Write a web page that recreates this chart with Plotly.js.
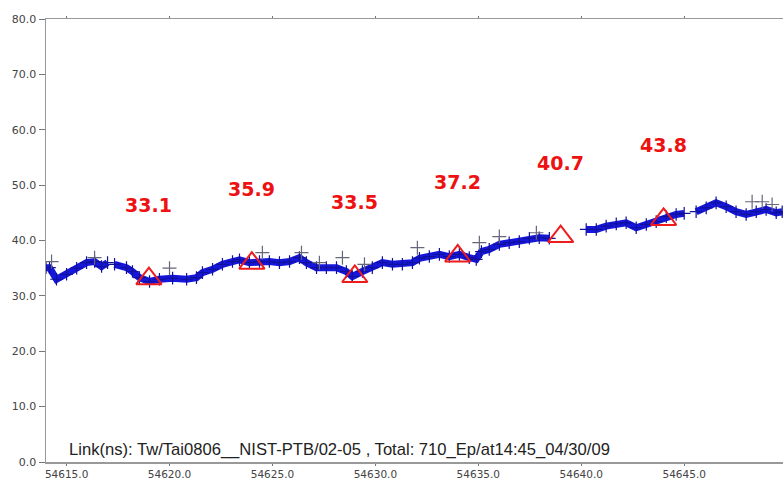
<!DOCTYPE html>
<html>
<head>
<meta charset="utf-8">
<script src="https://cdn.plot.ly/plotly-3.0.1.min.js"></script>
<style>html,body{margin:0;padding:0;background:#fff;}#chart{width:784px;height:480px;}</style>
</head>
<body>
<div id="chart"></div>
<script>
// MJD epochs and link values (ns); null marks a data gap
const linkMJD = [54614.0,54614.17,54614.51,54615.0,54615.49,54615.97,54616.36,54616.70,54616.99,54617.15,
  54617.33,54617.91,54618.20,54618.54,54619.03,54619.51,54620.15,54620.83,54621.31,54621.60,
  54622.09,54622.57,54623.06,54623.40,54623.88,54624.37,54624.85,54625.34,54625.83,54626.31,
  54626.65,54627.14,54627.62,54628.11,54628.59,54628.88,54629.37,54629.85,54630.34,54630.83,
  54631.31,54631.80,54632.14,54632.62,54633.11,54633.59,54634.08,54634.56,54634.90,54635.15,
  54635.53,54636.02,54636.50,54636.99,54637.48,54637.96,54638.45,54639.3,
  54640.24,54640.73,54641.21,54641.70,54642.18,54642.67,54643.16,54643.64,54644.13,54644.61,54645.0,54645.3,
  54645.58,54646.07,54646.55,54647.04,54647.52,54648.01,54648.50,54648.98,54649.47,54649.76];
const linkNs = [35.1,35.1,33.0,33.9,35.0,36.0,36.2,35.3,36.0,null,
  35.7,35.1,34.4,33.3,32.6,33.0,33.2,33.0,33.3,34.2,
  34.8,35.7,36.2,36.5,36.0,36.2,36.2,36.0,36.2,36.9,
  36.0,35.1,35.1,35.1,34.4,33.5,34.4,35.1,36.0,35.7,
  35.7,36.0,36.8,37.1,37.5,37.1,37.5,36.9,36.6,38.0,
  38.4,39.3,39.6,39.8,40.4,40.5,40.4,null,
  42.0,42.0,42.6,43.0,43.2,42.3,42.9,43.4,44.3,44.7,44.9,null,
  45.2,45.9,46.8,46.1,45.2,44.7,45.2,45.6,45.0,45.2];

// scattered outlier points (grey crosses)
const outMJD = [54614.27,54616.36,54620.0,54624.51,54626.41,54627.28,54628.40,54629.47,54632.04,
  54635.05,54636.02,54637.82,54648.30,54648.79,54649.27];
const outNs = [36.2,36.9,35.0,37.8,37.8,36.0,36.9,35.7,38.7,39.6,40.7,41.4,47.0,47.0,46.5];

// epoch averages (red triangles) and their labels
const epochMJD = [54619,54624,54629,54634,54639,54644];
const epochNs = [33.1,35.9,33.5,37.2,40.7,43.8];
const epochLabels = ['33.1','35.9','33.5','37.2','40.7','43.8'];

const footerText = 'Link(ns): Tw/Tai0806__NIST-PTB/02-05 , Total: 710_Ep/at14:45_04/30/09';

const traces = [
  {x: linkMJD, y: linkNs, type: 'scatter', mode: 'lines+markers', connectgaps: false,
   line: {color: '#1616da', width: 7},
   marker: {symbol: 'cross-thin-open', size: 9, color: '#10109a', line: {color: '#10109a', width: 1.2}},
   showlegend: false},
  {x: outMJD, y: outNs, type: 'scatter', mode: 'markers',
   marker: {symbol: 'cross-thin-open', size: 10, color: '#66667a', line: {color: '#66667a', width: 1.2}},
   showlegend: false},
  {x: epochMJD, y: epochNs, type: 'scatter', mode: 'markers',
   marker: {symbol: 'triangle-up-open', size: 22, color: '#ee1c1c', line: {color: '#ee1c1c', width: 2}},
   showlegend: false}
];

const annotations = epochMJD.map((m, i) => ({
  x: m, y: epochNs[i], xref: 'x', yref: 'y', text: '<b>' + epochLabels[i] + '</b>',
  showarrow: false, yshift: 74,
  font: {family: 'DejaVu Sans', size: 19, color: '#ee1111'}
}));
annotations.push({
  x: 0.029, y: 0, xref: 'paper', yref: 'paper', xanchor: 'left', yanchor: 'bottom',
  text: footerText, showarrow: false, yshift: 1,
  font: {family: 'Liberation Sans, Arial', size: 16.6, color: '#222'}
});

const layout = {
  width: 784, height: 480,
  margin: {l: 46, r: 1, t: 19, b: 18},
  paper_bgcolor: '#fff', plot_bgcolor: '#fff',
  showlegend: false,
  font: {family: 'DejaVu Sans', size: 11, color: '#444'},
  xaxis: {range: [54614.0, 54649.8], tick0: 54615, dtick: 5, tickformat: '.1f',
    showgrid: false, zeroline: false, showline: true, linecolor: '#999', linewidth: 1.5,
    ticks: 'outside', ticklen: 2, tickcolor: '#777', mirror: 'ticks',
    tickfont: {family: 'DejaVu Sans', size: 10.5, color: '#444'}},
  yaxis: {range: [0, 80], dtick: 10, tickformat: '.1f',
    showgrid: false, zeroline: false, showline: true, linecolor: '#999', linewidth: 1.5,
    ticks: 'outside', ticklen: 6, tickcolor: '#777',
    tickfont: {family: 'DejaVu Sans', size: 11, color: '#444'}},
  annotations: annotations
};

Plotly.newPlot('chart', traces, layout, {staticPlot: true, displayModeBar: false});
</script>
</body>
</html>
